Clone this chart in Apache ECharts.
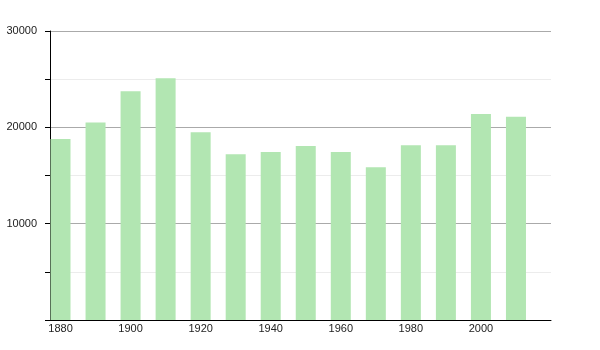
<!DOCTYPE html>
<html><head><meta charset="utf-8">
<script src="https://cdn.jsdelivr.net/npm/echarts@6/dist/echarts.min.js"></script>
<style>html,body{margin:0;padding:0;background:#fff}#c{width:600px;height:350px}</style>
</head><body><div id="c"></div>
<script>
const years = [1880,1890,1900,1910,1920,1930,1940,1950,1960,1970,1980,1990,2000,2010];
const population = [18800,20500,23750,25100,19500,17200,17450,18050,17450,15850,18150,18150,21380,21100];
const xTickLabels = [1880,1900,1920,1940,1960,1980,2000];
const yTickLabels = [10000,20000,30000];

const chart = echarts.init(document.getElementById('c'));
chart.setOption({
  animation:false,
  grid:{left:50,right:49,top:31,bottom:30,containLabel:false},
  xAxis:{
    type:'value', min:1877, max:2020,
    axisLine:{show:true,lineStyle:{color:'#000',width:1}},
    axisTick:{show:false},
    splitLine:{show:false},
    axisLabel:{customValues:xTickLabels,formatter:v=>String(v),color:'#222',fontSize:11,fontFamily:'Liberation Sans, Arial, sans-serif',margin:3}
  },
  yAxis:{
    type:'value', min:0, max:30000, interval:10000,
    axisLine:{show:true,lineStyle:{color:'#000',width:1}},
    axisTick:{show:true,length:5,lineStyle:{color:'#000'}},
    minorTick:{show:true,splitNumber:2,length:5,lineStyle:{color:'#000'}},
    splitLine:{show:true,lineStyle:{color:'#aaa',width:1}},
    minorSplitLine:{show:true,lineStyle:{color:'#ececec',width:1}},
    axisLabel:{customValues:yTickLabels,formatter:v=>String(v),color:'#222',fontSize:11,fontFamily:'Liberation Sans, Arial, sans-serif',margin:13}
  },
  series:[{
    type:'bar',
    barWidth:20,
    data: years.map((y,i)=>[y,population[i]]),
    itemStyle:{color:'#b2e6b2'}
  }]
});
</script></body></html>
